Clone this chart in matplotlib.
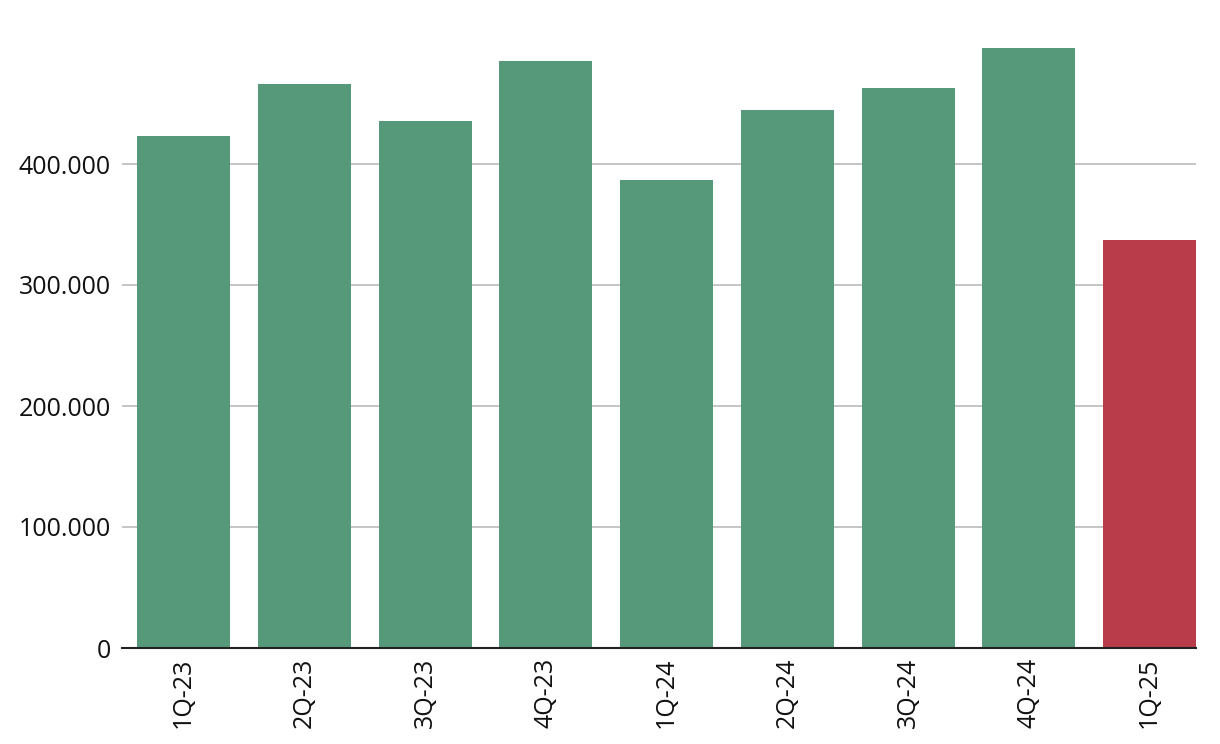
import matplotlib
matplotlib.use("Agg")
import matplotlib.pyplot as plt
from matplotlib.ticker import FuncFormatter

categories = ["1Q-23", "2Q-23", "3Q-23", "4Q-23", "1Q-24", "2Q-24", "3Q-24", "4Q-24", "1Q-25"]
values = [423000, 466000, 435500, 485000, 387000, 444500, 463000, 496000, 337000]
bar_colors = ["#56997a"] * 8 + ["#b83c4a"]
yticks = [0, 100000, 200000, 300000, 400000]

plt.rcParams['font.family'] = ['Open Sans', 'DejaVu Sans']

fig = plt.figure(figsize=(12.2, 7.44), dpi=100)
ax = fig.add_axes([122 / 1220, 1 - 648 / 744, (1196 - 122) / 1220, (648 - 43) / 744])

x = list(range(len(categories)))
ax.bar(x, values, width=0.77, color=bar_colors, zorder=3)

ax.set_xlim(-0.51, len(categories) - 1 + 0.385)
ax.set_ylim(0, 500000)
ax.set_yticks(yticks)
ax.yaxis.set_major_formatter(FuncFormatter(lambda v, p: f"{int(v):,}".replace(",", ".")))
ax.set_xticks(x)
ax.set_xticklabels(categories, rotation=90)

ax.grid(axis="y", color="#bbbbbb", linewidth=1.2, zorder=0)
for s in ["top", "right", "left"]:
    ax.spines[s].set_visible(False)
ax.spines["bottom"].set_color("#222222")
ax.spines["bottom"].set_linewidth(1.5)
ax.spines["bottom"].set_zorder(4)
ax.tick_params(axis="both", length=0, labelsize=18, colors="#111111")
ax.tick_params(axis="x", pad=7)
ax.tick_params(axis="y", pad=8)

fig.savefig("out.png", dpi=100)
